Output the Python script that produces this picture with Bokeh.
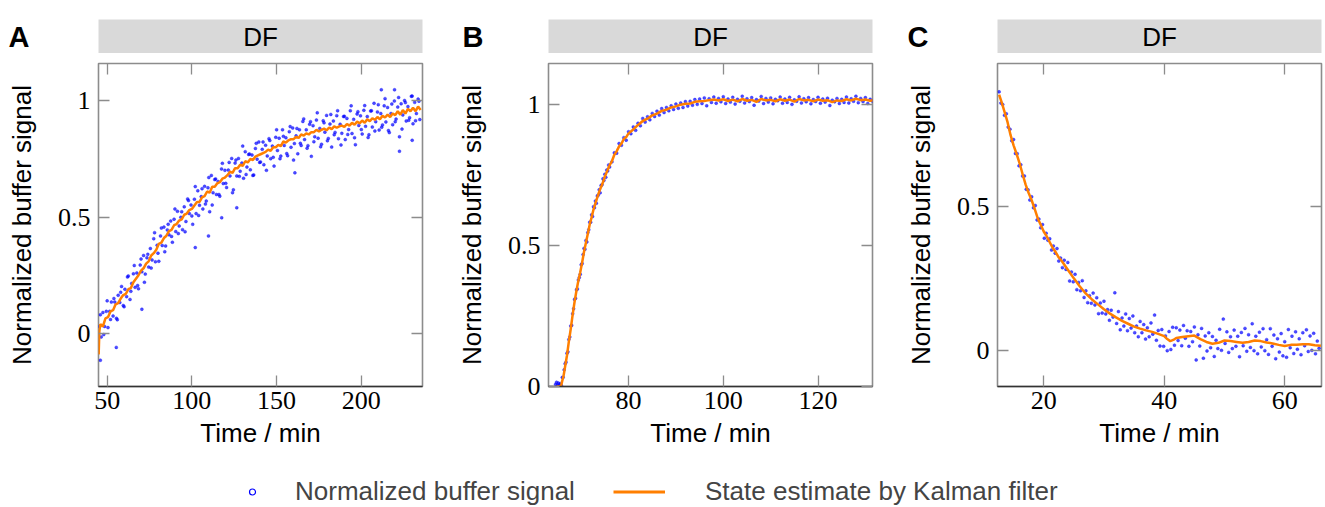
from bokeh.plotting import figure
from bokeh.layouts import column, row
from bokeh.models import (Range1d, FixedTicker, CustomJSTickFormatter, LinearAxis,
                          Label, Legend, LegendItem)
from bokeh.core.properties import value
from bokeh.embed import file_html
from bokeh.resources import INLINE

# ---------------- data ----------------
# Panel A
a_time = [45.5, 46.5, 47.5, 48.5, 49.5, 50.5, 51.5, 52.5, 53.5, 54.5,
          55.5, 56.5, 57.5, 58.5, 59.5, 60.5, 61.5, 62.5, 63.5, 64.5,
          65.5, 66.5, 67.5, 68.5, 69.5, 70.5, 71.5, 72.5, 73.5, 74.5,
          75.5, 76.5, 77.5, 78.5, 79.5, 80.5, 81.5, 82.5, 83.5, 84.5,
          85.5, 86.5, 87.5, 88.5, 89.5, 90.5, 91.5, 92.5, 93.5, 94.5,
          95.5, 96.5, 97.5, 98.5, 99.5, 100.5, 101.5, 102.5, 103.5, 104.5,
          105.5, 106.5, 107.5, 108.5, 109.5, 110.5, 111.5, 112.5, 113.5, 114.5,
          115.5, 116.5, 117.5, 118.5, 119.5, 120.5, 121.5, 122.5, 123.5, 124.5,
          125.5, 126.5, 127.5, 128.5, 129.5, 130.5, 131.5, 132.5, 133.5, 134.5,
          135.5, 136.5, 137.5, 138.5, 139.5, 140.5, 141.5, 142.5, 143.5, 144.5,
          145.5, 146.5, 147.5, 148.5, 149.5, 150.5, 151.5, 152.5, 153.5, 154.5,
          155.5, 156.5, 157.5, 158.5, 159.5, 160.5, 161.5, 162.5, 163.5, 164.5,
          165.5, 166.5, 167.5, 168.5, 169.5, 170.5, 171.5, 172.5, 173.5, 174.5,
          175.5, 176.5, 177.5, 178.5, 179.5, 180.5, 181.5, 182.5, 183.5, 184.5,
          185.5, 186.5, 187.5, 188.5, 189.5, 190.5, 191.5, 192.5, 193.5, 194.5,
          195.5, 196.5, 197.5, 198.5, 199.5, 200.5, 201.5, 202.5, 203.5, 204.5,
          205.5, 206.5, 207.5, 208.5, 209.5, 210.5, 211.5, 212.5, 213.5, 214.5,
          215.5, 216.5, 217.5, 218.5, 219.5, 220.5, 221.5, 222.5, 223.5, 224.5,
          225.5, 226.5, 227.5, 228.5, 229.5, 230.5, 231.5, 232.5, 233.5, 234.5]
a_signal = [0.03, -0.015, 0.09, 0.03, 0.095, 0.025, 0.095, 0.135, 0.075, 0.135,
            0.065, 0.164, 0.133, 0.202, 0.12, 0.19, 0.158, 0.247, 0.146, 0.215,
            0.256, 0.198, 0.26, 0.192, 0.294, 0.265, 0.335, 0.255, 0.325, 0.285,
            0.365, 0.316, 0.407, 0.308, 0.379, 0.31, 0.419, 0.378, 0.457, 0.376,
            0.445, 0.424, 0.483, 0.392, 0.491, 0.438, 0.525, 0.462, 0.499, 0.446,
            0.544, 0.481, 0.578, 0.515, 0.552, 0.469, 0.577, 0.515, 0.613, 0.551,
            0.588, 0.535, 0.632, 0.569, 0.626, 0.523, 0.679, 0.605, 0.661, 0.597,
            0.653, 0.59, 0.707, 0.644, 0.701, 0.627, 0.702, 0.677, 0.752, 0.617,
            0.732, 0.677, 0.752, 0.697, 0.732, 0.667, 0.781, 0.715, 0.769, 0.703,
            0.767, 0.681, 0.795, 0.749, 0.823, 0.737, 0.791, 0.725, 0.809, 0.763,
            0.837, 0.751, 0.805, 0.719, 0.843, 0.786, 0.839, 0.762, 0.875, 0.808,
            0.841, 0.764, 0.867, 0.80, 0.883, 0.816, 0.849, 0.772, 0.875, 0.808,
            0.911, 0.833, 0.875, 0.807, 0.899, 0.761, 0.893, 0.845, 0.917, 0.839,
            0.881, 0.813, 0.914, 0.865, 0.937, 0.838, 0.90, 0.801, 0.913, 0.864,
            0.936, 0.837, 0.899, 0.86, 0.932, 0.833, 0.924, 0.876, 0.957, 0.859,
            0.92, 0.811, 0.943, 0.894, 0.935, 0.857, 0.959, 0.89, 0.932, 0.854,
            0.956, 0.887, 0.989, 0.91, 0.952, 0.874, 0.945, 0.896, 0.978, 0.909,
            0.971, 0.863, 0.945, 0.897, 0.999, 0.921, 0.973, 0.845, 0.987, 0.939,
            1.001, 0.913, 0.975, 0.927, 1.019, 0.901, 0.993, 0.945, 1.007, 0.919]
a_time2 = [46, 48, 50, 52, 54, 56, 58, 60, 62, 64,
           66, 68, 70, 72, 74, 76, 78, 80, 82, 84,
           86, 88, 90, 92, 94, 96, 98, 100, 102, 104,
           106, 108, 110, 112, 114, 116, 118, 120, 122, 124,
           126, 128, 130, 132, 134, 136, 138, 140, 142, 144,
           146, 148, 150, 152, 154, 156, 158, 160, 162, 164,
           166, 168, 170, 172, 174, 176, 178, 180, 182, 184,
           186, 188, 190, 192, 194, 196, 198, 200, 202, 204,
           206, 208, 210, 212, 214, 216, 218, 220, 222, 224,
           226, 228, 230, 232, 234]
a_signal2 = [0.08, -0.005, 0.14, 0.06, 0.15, 0.059, 0.177, 0.115, 0.243, 0.181,
             0.292, 0.206, 0.32, 0.22, 0.34, 0.281, 0.433, 0.345, 0.453, 0.351,
             0.469, 0.417, 0.535, 0.429, 0.523, 0.437, 0.571, 0.505, 0.631, 0.507,
             0.622, 0.556, 0.67, 0.552, 0.664, 0.597, 0.731, 0.645, 0.735, 0.605,
             0.745, 0.675, 0.805, 0.683, 0.771, 0.679, 0.817, 0.735, 0.823, 0.701,
             0.829, 0.757, 0.875, 0.751, 0.847, 0.773, 0.889, 0.745, 0.881, 0.817,
             0.922, 0.796, 0.91, 0.824, 0.948, 0.802, 0.905, 0.828, 0.941, 0.854,
             0.957, 0.81, 0.933, 0.855, 0.978, 0.841, 0.953, 0.876, 0.979, 0.842,
             0.957, 0.87, 0.983, 0.886, 1.009, 0.872, 0.986, 0.91, 1.014, 0.878,
             0.992, 0.916, 1.02, 0.914, 0.998]
a_out_time = [46.0, 55.4, 70.5, 102.0, 109.8, 117.6, 126.5, 160.8, 211.8, 219.6, 222.5, 230.0]
a_out_signal = [-0.115, -0.06, 0.104, 0.369, 0.419, 0.497, 0.54, 0.69, 1.047, 1.047, 0.783, 0.83]
a_kf_time = [45.0, 45.4, 46.0, 47.5, 49.0, 50.5, 52.0, 53.5, 55.0, 56.5, 58.0, 59.5, 61.0,
             62.5, 64.0, 65.5, 67.0, 68.5, 70.0, 71.5, 73.0, 74.5, 76.0, 77.5, 79.0, 80.5,
             82.0, 83.5, 85.0, 86.5, 88.0, 89.5, 91.0, 92.5, 94.0, 95.5, 97.0, 98.5, 100.0,
             101.5, 103.0, 104.5, 106.0, 107.5, 109.0, 110.5, 112.0, 113.5, 115.0, 116.5,
             118.0, 119.5, 121.0, 122.5, 124.0, 125.5, 127.0, 128.5, 130.0, 131.5, 133.0,
             134.5, 136.0, 137.5, 139.0, 140.5, 142.0, 143.5, 145.0, 146.5, 148.0, 149.5,
             151.0, 152.5, 154.0, 155.5, 157.0, 158.5, 160.0, 161.5, 163.0, 164.5, 166.0,
             167.5, 169.0, 170.5, 172.0, 173.5, 175.0, 176.5, 178.0, 179.5, 181.0, 182.5,
             184.0, 185.5, 187.0, 188.5, 190.0, 191.5, 193.0, 194.5, 196.0, 197.5, 199.0,
             200.5, 202.0, 203.5, 205.0, 206.5, 208.0, 209.5, 211.0, 212.5, 214.0, 215.5,
             217.0, 218.5, 220.0, 221.5, 223.0, 224.5, 226.0, 227.5, 229.0, 230.5, 232.0,
             233.5, 235.0]
a_kf_state = [-0.09, 0.01, 0.04, 0.03, 0.065, 0.07, 0.095, 0.10, 0.125, 0.13, 0.15, 0.165, 0.17,
              0.19, 0.195, 0.22, 0.235, 0.25, 0.27, 0.28, 0.30, 0.31, 0.335, 0.345, 0.36, 0.385,
              0.39, 0.41, 0.42, 0.44, 0.445, 0.465, 0.47, 0.485, 0.49, 0.51, 0.515, 0.53, 0.535,
              0.55, 0.565, 0.565, 0.585, 0.59, 0.61, 0.605, 0.63, 0.63, 0.645, 0.65,
              0.665, 0.67, 0.68, 0.695, 0.69, 0.71, 0.71, 0.725, 0.72, 0.74, 0.735,
              0.75, 0.745, 0.76, 0.765, 0.77, 0.775, 0.78, 0.79, 0.785, 0.80, 0.80,
              0.81, 0.805, 0.825, 0.82, 0.83, 0.835, 0.835, 0.845, 0.84, 0.855, 0.85,
              0.86, 0.855, 0.865, 0.865, 0.875, 0.868, 0.875, 0.88, 0.873, 0.885, 0.878,
              0.89, 0.884, 0.89, 0.893, 0.888, 0.90, 0.893, 0.905, 0.897, 0.91, 0.903,
              0.915, 0.905, 0.92, 0.912, 0.925, 0.918, 0.93, 0.92, 0.935, 0.928, 0.94,
              0.93, 0.945, 0.938, 0.955, 0.94, 0.96, 0.945, 0.965, 0.955, 0.97, 0.955,
              0.975, 0.96]

# Panel B
b_time = [64.6, 64.8, 65.0, 65.2, 65.4, 65.6, 65.8, 66.0, 66.2, 66.4,
          66.6, 66.8, 67.0, 67.2, 67.4, 67.6, 67.8, 68.0, 68.2, 68.4,
          68.6, 68.8, 69.0, 69.2, 69.4, 69.6, 69.8, 70.0, 70.2, 70.4,
          70.6, 70.8, 71.0, 71.2, 71.4, 71.6, 71.8, 72.0, 72.2, 72.4,
          72.6, 72.8, 73.0, 73.2, 73.4, 73.6, 73.8, 74.0, 74.2, 74.4,
          74.6, 74.8, 75.0, 75.2, 75.4, 75.6, 75.8, 76.0,
          76.5, 77.0, 77.5, 78.0, 78.5, 79.0, 79.5, 80.0, 80.5, 81.0,
          81.5, 82.0, 82.5, 83.0, 83.5, 84.0, 84.5, 85.0, 85.5, 86.0,
          86.5, 87.0, 87.5, 88.0, 88.5, 89.0, 89.5, 90.0, 90.5, 91.0,
          91.5, 92.0, 92.5, 93.0, 93.5, 94.0, 94.5, 95.0, 95.5, 96.0,
          96.5, 97.0, 97.5, 98.0, 98.5, 99.0, 99.5, 100.0, 100.5, 101.0,
          101.5, 102.0, 102.5, 103.0, 103.5, 104.0, 104.5, 105.0, 105.5, 106.0,
          106.5, 107.0, 107.5, 108.0, 108.5, 109.0, 109.5, 110.0, 110.5, 111.0,
          111.5, 112.0, 112.5, 113.0, 113.5, 114.0, 114.5, 115.0, 115.5, 116.0,
          116.5, 117.0, 117.5, 118.0, 118.5, 119.0, 119.5, 120.0, 120.5, 121.0,
          121.5, 122.0, 122.5, 123.0, 123.5, 124.0, 124.5, 125.0, 125.5, 126.0,
          126.5, 127.0, 127.5, 128.0, 128.5, 129.0, 129.5, 130.0, 130.5, 131.0,
          131.5]
b_signal = [0.008, 0.015, 0.004, 0.012, 0.006, 0.010, 0.004, 0.032, 0.033, 0.059,
            0.081, 0.086, 0.118, 0.123, 0.167, 0.176, 0.215, 0.217, 0.258, 0.276,
            0.309, 0.313, 0.343, 0.346, 0.378, 0.387, 0.398, 0.432, 0.436, 0.468,
            0.490, 0.487, 0.518, 0.513, 0.546, 0.556, 0.583, 0.583, 0.609, 0.603,
            0.638, 0.634, 0.658, 0.650, 0.676, 0.679, 0.698, 0.687, 0.713, 0.716,
            0.737, 0.731, 0.753, 0.742, 0.768, 0.765, 0.786, 0.779,
            0.797, 0.829, 0.828, 0.862, 0.856, 0.883, 0.874, 0.904, 0.897, 0.921,
            0.909, 0.934, 0.925, 0.951, 0.938, 0.957, 0.946, 0.969, 0.958, 0.977,
            0.963, 0.986, 0.972, 0.990, 0.978, 0.996, 0.983, 1.002, 0.987, 1.006,
            0.990, 1.011, 0.995, 1.012, 0.998, 1.018, 1.001, 1.020, 1.004, 1.024,
            0.996, 1.021, 1.008, 1.027, 1.005, 1.022, 1.010, 1.028, 1.004, 1.020,
            1.009, 1.026, 1.002, 1.019, 1.012, 1.030, 1.006, 1.021, 1.011, 1.025,
            0.998, 1.018, 1.013, 1.029, 1.004, 1.022, 1.009, 1.024, 1.003, 1.019,
            1.014, 1.027, 1.005, 1.020, 1.008, 1.026, 1.001, 1.017, 1.012, 1.028,
            1.006, 1.021, 1.010, 1.025, 1.003, 1.018, 1.011, 1.026, 1.005, 1.020,
            1.009, 1.023, 0.997, 1.016, 1.010, 1.022, 1.004, 1.019, 1.008, 1.027,
            1.006, 1.021, 1.012, 1.030, 1.007, 1.022, 1.011, 1.025, 1.004, 1.019,
            1.013]
b_kf_time = [64.8, 65.5, 65.8, 66.0, 66.3, 66.6, 67.0, 67.4, 67.8, 68.2, 68.6, 69.0, 69.4,
             69.8, 70.2, 70.6, 71.0, 71.4, 71.8, 72.2, 72.6, 73.0, 73.5, 74.0, 74.5, 75.0,
             75.5, 76.0, 76.5, 77.0, 77.5, 78.0, 78.5, 79.0, 79.5, 80.0, 81.0, 82.0, 83.0,
             84.0, 85.0, 86.0, 87.0, 88.0, 89.0, 90.0, 91.0, 92.0, 93.0, 94.0, 95.0, 96.0,
             97.0, 98.0, 99.0, 100.0, 101.0, 102.0, 103.0, 104.0, 105.0, 106.0, 107.0, 108.0,
             109.0, 110.0, 111.0, 112.0, 113.0, 114.0, 115.0, 116.0, 117.0, 118.0, 119.0,
             120.0, 121.0, 122.0, 123.0, 124.0, 125.0, 126.0, 127.0, 128.0, 129.0, 130.0,
             131.0, 131.6]
b_kf_state = [0.0, 0.0, 0.005, 0.02, 0.04, 0.07, 0.11, 0.16, 0.205, 0.255, 0.30, 0.34, 0.375,
              0.405, 0.44, 0.478, 0.51, 0.542, 0.575, 0.60, 0.628, 0.65, 0.676, 0.70, 0.72, 0.745,
              0.765, 0.785, 0.80, 0.822, 0.835, 0.852, 0.862, 0.878, 0.885, 0.898, 0.912, 0.928, 0.942,
              0.95, 0.962, 0.968, 0.978, 0.982, 0.99, 0.994, 1.0, 1.003, 1.004, 1.01, 1.012, 1.013,
              1.016, 1.018, 1.015, 1.019, 1.013, 1.018, 1.012, 1.02, 1.014, 1.017, 1.01, 1.02,
              1.015, 1.017, 1.012, 1.019, 1.014, 1.018, 1.011, 1.02, 1.015, 1.017, 1.012,
              1.018, 1.014, 1.016, 1.009, 1.015, 1.013, 1.019, 1.015, 1.021, 1.016, 1.018,
              1.014, 1.016]

# Panel C
c_time = [12.6, 12.9, 13.2, 13.5, 13.8, 14.1, 14.4, 14.7, 15.0, 15.3,
          15.6, 15.9, 16.2, 16.5, 16.8, 17.1, 17.4, 17.7, 18.0, 18.3,
          18.6, 18.9, 19.2, 19.5, 19.8, 20.1, 20.4, 20.7, 21.0, 21.3,
          21.6, 21.9, 22.2, 22.5, 22.8, 23.1, 23.4, 23.7, 24.0, 24.3,
          24.6, 24.9, 25.2, 25.5, 25.8, 26.1, 26.4, 26.7, 27.0, 27.3,
          27.6, 27.9, 28.2, 28.5, 28.8, 29.1, 29.4, 29.7, 30.0, 30.3,
          30.6, 30.9, 31.2, 31.5, 31.8, 32.1, 32.4, 32.7, 33.0, 33.3,
          33.6, 33.9, 34.2, 34.5, 34.8, 35.1, 35.4, 35.7, 36.0, 36.3,
          36.6, 36.9, 37.2, 37.5, 37.8, 38.1, 38.4, 38.7, 39.0, 39.3,
          39.6, 39.9, 40.2, 40.5, 40.8, 41.1, 41.4, 41.7, 42.0, 42.3,
          42.6, 42.9, 43.2, 43.5, 43.8, 44.1, 44.4, 44.7, 45.0, 45.3,
          45.6, 45.9, 46.2, 46.5, 46.8, 47.1, 47.4, 47.7, 48.0, 48.3,
          48.6, 48.9, 49.2, 49.5, 49.8, 50.1, 50.4, 50.7, 51.0, 51.3,
          51.6, 51.9, 52.2, 52.5, 52.8, 53.1, 53.4, 53.7, 54.0, 54.3,
          54.6, 54.9, 55.2, 55.5, 55.8, 56.1, 56.4, 56.7, 57.0, 57.3,
          57.6, 57.9, 58.2, 58.5, 58.8, 59.1, 59.4, 59.7, 60.0, 60.3,
          60.6, 60.9, 61.2, 61.5, 61.8, 62.1, 62.4, 62.7, 63.0, 63.3,
          63.6, 63.9, 64.2, 64.5, 64.8, 65.1, 65.4, 65.7]
c_signal = [0.895, 0.856, 0.851, 0.814, 0.819, 0.773, 0.766, 0.726, 0.73, 0.682,
            0.681, 0.639, 0.643, 0.604, 0.604, 0.558, 0.556, 0.521, 0.532, 0.494,
            0.502, 0.452, 0.455, 0.425, 0.436, 0.389, 0.406, 0.382, 0.387, 0.348,
            0.362, 0.337, 0.353, 0.31, 0.32, 0.287, 0.313, 0.281, 0.305, 0.241,
            0.272, 0.238, 0.264, 0.211, 0.236, 0.207, 0.242, 0.184, 0.207, 0.166,
            0.19, 0.164, 0.199, 0.158, 0.183, 0.128, 0.165, 0.13, 0.171, 0.127,
            0.142, 0.105, 0.14, 0.116, 0.2, 0.094, 0.135, 0.072, 0.113, 0.085,
            0.127, 0.069, 0.111, 0.078, 0.12, 0.062, 0.085, 0.048, 0.101, 0.062,
            0.09, 0.04, 0.079, 0.048, 0.096, 0.057, 0.123, 0.036, 0.07, 0.016,
            0.073, 0.015, 0.051, 0.0, 0.066, 0.004, 0.081, 0.019, 0.079, 0.035,
            0.071, 0.017, 0.087, 0.043, 0.069, 0.015, 0.066, 0.031, 0.082, -0.032,
            0.055, 0.016, 0.077, -0.026, 0.051, -0.001, 0.062, 0.01, 0.049, -0.02,
            0.036, 0.007, 0.074, 0.001, 0.109, 0.025, 0.065, -0.006, 0.048, 0.007,
            0.071, 0.015, 0.05, -0.021, 0.063, 0.017, 0.077, -0.002, 0.055, 0.011,
            0.093, 0.0, 0.05, -0.011, 0.064, 0.013, 0.076, 0.0, 0.038, -0.013,
            0.076, 0.015, 0.054, -0.028, 0.041, -0.005, 0.059, -0.018, 0.031, -0.023,
            0.073, 0.01, 0.05, -0.01, 0.065, 0.005, 0.041, -0.014, 0.062, 0.017,
            0.072, -0.003, 0.051, 0.001, 0.06, -0.011, 0.033, 0.008]
c_kf_time = [12.6, 13.0, 13.5, 14.0, 14.5, 15.0, 15.5, 16.0, 16.5, 17.0, 17.5, 18.0, 18.5,
             19.0, 19.5, 20.0, 20.5, 21.0, 21.5, 22.0, 22.5, 23.0, 24.0, 25.0, 26.0, 27.0,
             28.0, 29.0, 30.0, 31.0, 32.0, 33.0, 34.0, 35.0, 36.0, 37.0, 38.0, 39.0, 40.0,
             40.5, 41.0, 41.5, 42.0, 43.0, 44.0, 45.0, 46.0, 47.0, 48.0, 49.0, 50.0, 51.0,
             52.0, 53.0, 54.0, 55.0, 56.0, 57.0, 58.0, 59.0, 60.0, 61.0, 62.0, 63.0, 64.0,
             65.0, 66.0]
c_kf_state = [0.885, 0.86, 0.826, 0.79, 0.745, 0.71, 0.68, 0.648, 0.61, 0.574, 0.545, 0.52, 0.49,
              0.458, 0.435, 0.412, 0.395, 0.375, 0.355, 0.34, 0.322, 0.31, 0.28, 0.25, 0.222, 0.197,
              0.177, 0.16, 0.143, 0.128, 0.115, 0.103, 0.093, 0.083, 0.076, 0.07, 0.065, 0.058, 0.05,
              0.04, 0.033, 0.037, 0.044, 0.047, 0.05, 0.052, 0.04, 0.03, 0.024, 0.027, 0.035, 0.033,
              0.03, 0.027, 0.03, 0.035, 0.033, 0.028, 0.025, 0.02, 0.016, 0.02, 0.02, 0.022, 0.022,
              0.019, 0.017]

# ticks
a_xticks = [50, 100, 150, 200]
b_xticks = [80, 100, 120]
c_xticks = [20, 40, 60]
ab_yticks = [0, 0.5, 1]
c_yticks = [0, 0.5]

# ---------------- style ----------------
SANS = "Liberation Sans"
SERIF = "Liberation Serif"
FS = "26px"
BLUE = "#0000ff"
ORANGE = "#ff7f00"
TICK = "#8c8c8c"
STRIP = "#d9d9d9"


def no_grid(p):
    p.xgrid.visible = False
    p.ygrid.visible = False


def bare_fig(width, height, left=0, right=0, top=0, bottom=0):
    f = figure(width=width, height=height, x_range=Range1d(0, 1), y_range=Range1d(0, 1),
               output_backend="svg", toolbar_location=None,
               x_axis_location=None, y_axis_location=None,
               min_border_left=left, min_border_right=right,
               min_border_top=top, min_border_bottom=bottom)
    no_grid(f)
    f.outline_line_color = None
    f.border_fill_color = "white"
    f.background_fill_color = "white"
    return f


def style_axis(ax, ticks, labels):
    ax.ticker = FixedTicker(ticks=ticks)
    ax.formatter = CustomJSTickFormatter(code="return tick.toString();")
    ax.major_tick_in = 11
    ax.major_tick_out = 0
    ax.major_tick_line_color = TICK
    ax.major_tick_line_width = 1.3
    ax.minor_tick_line_color = None
    ax.axis_line_color = None
    if labels:
        ax.major_label_text_font = SERIF
        ax.major_label_text_font_size = FS
        ax.major_label_text_color = "black"
    else:
        ax.major_label_text_font_size = "0px"
        ax.major_label_text_color = None
        ax.major_label_standoff = 0


def make_panel(width, left, right, xr, yr, xticks, yticks, scatter_sets, kt, kv):
    p = figure(width=width, height=407, x_range=Range1d(*xr), y_range=Range1d(*yr),
               output_backend="svg", toolbar_location=None,
               x_axis_location=None, y_axis_location=None,
               min_border_left=left, min_border_right=right,
               min_border_top=10, min_border_bottom=74)
    no_grid(p)
    p.outline_line_color = TICK
    p.outline_line_width = 1.6
    p.background_fill_color = "white"
    p.border_fill_color = "white"

    xb = LinearAxis()
    style_axis(xb, xticks, True)
    xb.major_label_standoff = 5
    xb.axis_label = "Time / min"
    xb.axis_label_text_font = SANS
    xb.axis_label_text_font_size = FS
    xb.axis_label_text_font_style = "normal"
    xb.axis_label_text_color = "black"
    xb.axis_label_standoff = 6
    xb.axis_line_color = "#333333"
    xb.axis_line_width = 1.6
    p.add_layout(xb, "below")

    yl = LinearAxis()
    style_axis(yl, yticks, True)
    yl.major_label_standoff = 8
    yl.axis_label = "Normalized buffer signal"
    yl.axis_label_text_font = SANS
    yl.axis_label_text_font_size = FS
    yl.axis_label_text_font_style = "normal"
    yl.axis_label_text_color = "black"
    yl.axis_label_standoff = 18
    p.add_layout(yl, "left")

    xt = LinearAxis()
    style_axis(xt, xticks, False)
    p.add_layout(xt, "above")
    yr_ax = LinearAxis()
    style_axis(yr_ax, yticks, False)
    p.add_layout(yr_ax, "right")

    for st, sv in scatter_sets:
        p.scatter(st, sv, marker="circle", size=3, fill_color=BLUE, fill_alpha=0.7,
                  line_color=BLUE, line_alpha=0.7, line_width=0.5)
    p.line(kt, kv, line_color=ORANGE, line_width=2.5)
    return p


def make_letter(width, letter, letter_x):
    f = bare_fig(width, 53)
    f.add_layout(Label(x=letter_x, y=17, x_units="screen", y_units="screen", text=letter,
                       text_font=SANS, text_font_size="29px", text_font_style="bold",
                       text_color="black", text_baseline="alphabetic"))
    return f


def make_strip(width, right):
    s = bare_fig(width, 53, right=right, top=19)
    s.background_fill_color = STRIP
    s.text(x=[0.5], y=[0.5], text=["DF"], text_font=value(SANS), text_font_size=FS,
           text_align="center", text_baseline="middle", text_color="black")
    return s


pA = make_panel(440, 98, 18, (44.9, 236.1), (-0.228, 1.16), a_xticks, ab_yticks,
                [(a_time, a_signal), (a_time2, a_signal2), (a_out_time, a_out_signal)],
                a_kf_time, a_kf_state)
pB = make_panel(450, 108, 18, (63.1, 131.5), (0.0, 1.146), b_xticks, ab_yticks,
                [(b_time, b_signal)], b_kf_time, b_kf_state)
pC = make_panel(435, 107, 4, (12.33, 66.1), (-0.124, 0.993), c_xticks, c_yticks,
                [(c_time, c_signal)], c_kf_time, c_kf_state)

top_row = row(make_letter(98, "A", 8), make_strip(342, 18),
              make_letter(108, "B", 22), make_strip(342, 18),
              make_letter(107, "C", 17), make_strip(328, 4))

# legend strip: proxy renderers use the real data but lie outside this figure's ranges
lg = bare_fig(1325, 47)
r_sig = lg.scatter(a_time, a_signal, marker="circle", size=6, fill_color=None,
                   line_color=BLUE, line_width=1.2)
r_kf = lg.line(a_kf_time, a_kf_state, line_color=ORANGE, line_width=3)
leg1 = Legend(items=[LegendItem(label="Normalized buffer signal", renderers=[r_sig])],
              location=(226, 0), glyph_width=52, glyph_height=15, label_standoff=17,
              label_text_font=SANS, label_text_font_size=FS, border_line_color=None,
              background_fill_alpha=0, padding=0, margin=0)
leg2 = Legend(items=[LegendItem(label="State estimate by Kalman filter", renderers=[r_kf])],
              location=(613, 0), glyph_width=52, glyph_height=15, label_standoff=40,
              label_text_font=SANS, label_text_font_size=FS, border_line_color=None,
              background_fill_alpha=0, padding=0, margin=0)
lg.add_layout(leg1)
lg.add_layout(leg2)

layout = column(top_row, row(pA, pB, pC), lg)
open("out.html", "w").write(file_html(layout, INLINE))
